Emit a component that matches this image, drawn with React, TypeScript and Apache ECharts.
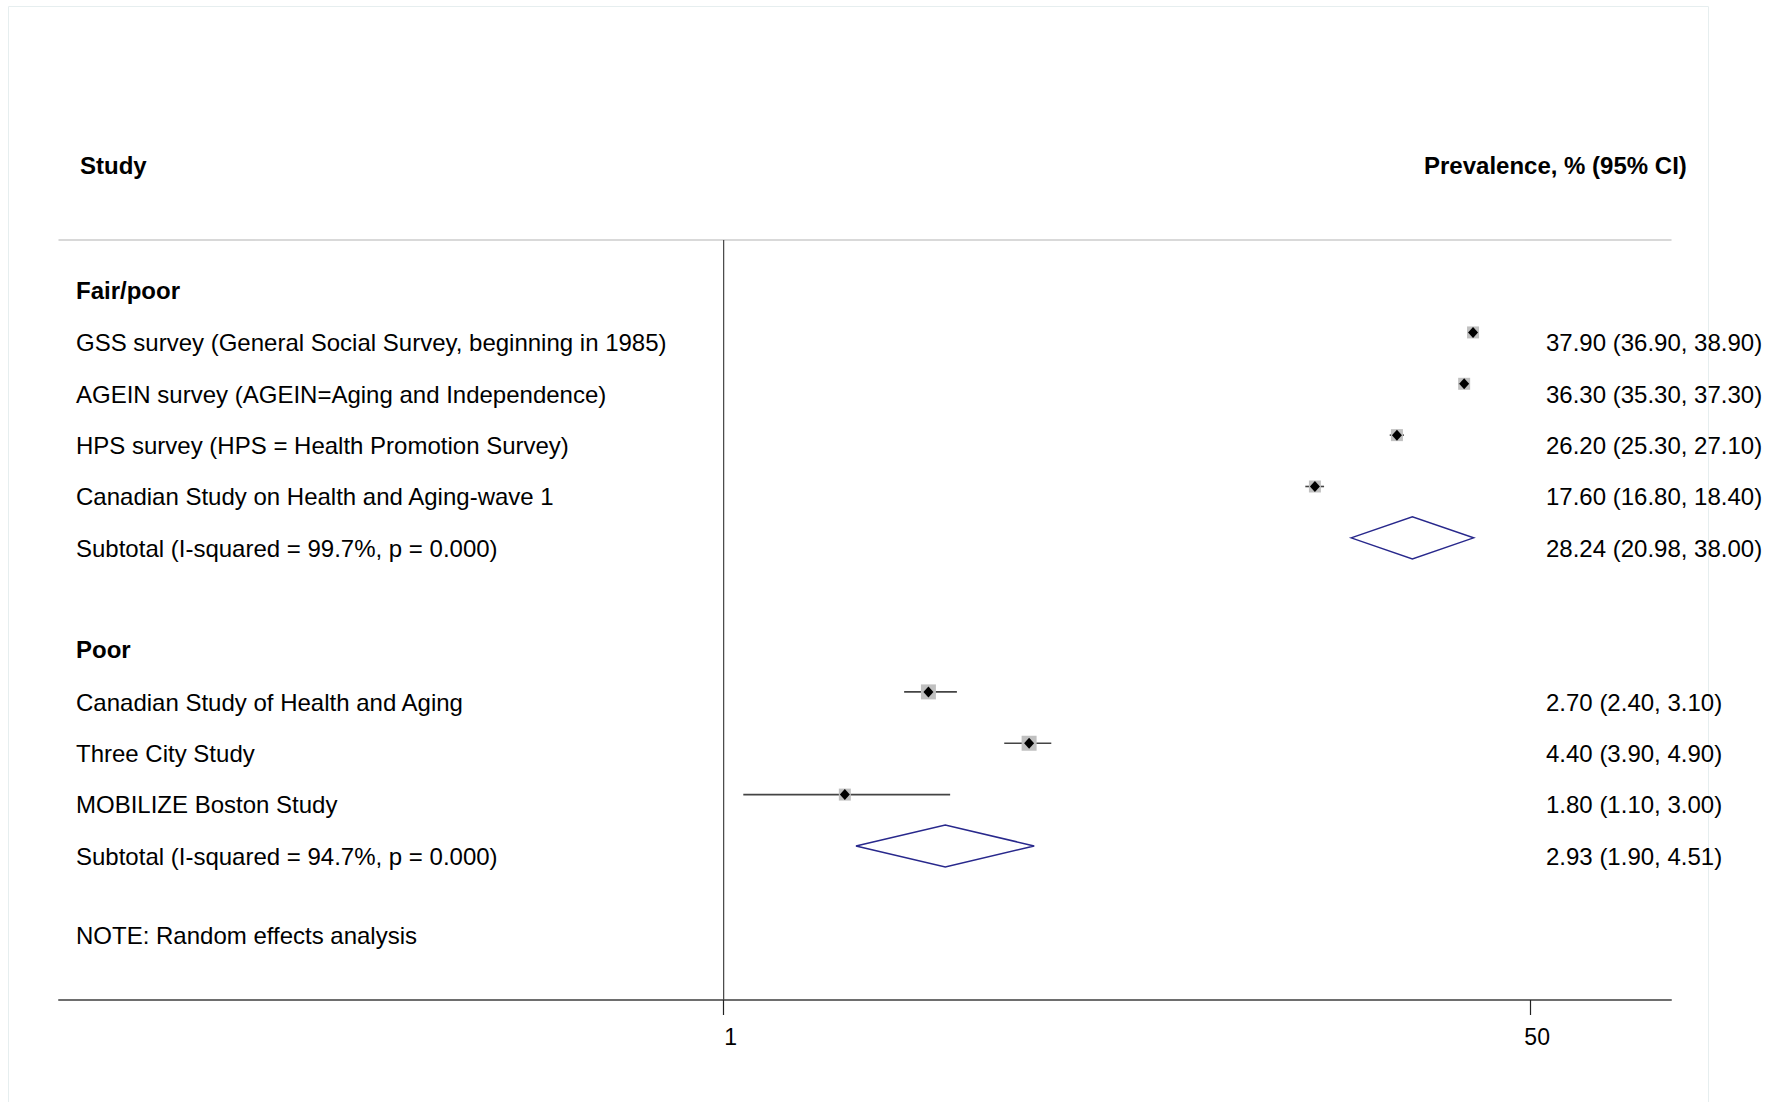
import React, { useEffect, useRef } from "react";
import * as echarts from "echarts";

// ---------- data ----------
const headerLeft = "Study";
const headerRight = "Prevalence, % (95% CI)";
const note = "NOTE: Random effects analysis";

const groupFairPoor = "Fair/poor";
const fairPoorStudies = [
  "GSS survey (General Social Survey, beginning in 1985)",
  "AGEIN survey (AGEIN=Aging and Independence)",
  "HPS survey (HPS = Health Promotion Survey)",
  "Canadian Study on Health and Aging-wave 1",
];
const fairPoorEst = [37.9, 36.3, 26.2, 17.6];
const fairPoorLow = [36.9, 35.3, 25.3, 16.8];
const fairPoorHigh = [38.9, 37.3, 27.1, 18.4];
const fairPoorBox = [12, 12, 12, 12];
const fairPoorSubtotal = [28.24, 20.98, 38.0];
const fairPoorSubLabel = "Subtotal (I-squared = 99.7%, p = 0.000)";

const groupPoor = "Poor";
const poorStudies = [
  "Canadian Study of Health and Aging",
  "Three City Study",
  "MOBILIZE Boston Study",
];
const poorEst = [2.7, 4.4, 1.8];
const poorLow = [2.4, 3.9, 1.1];
const poorHigh = [3.1, 4.9, 3.0];
const poorBox = [15, 15, 12];
const poorSubtotal = [2.93, 1.9, 4.51];
const poorSubLabel = "Subtotal (I-squared = 94.7%, p = 0.000)";

const xTicks = [1, 50];
const xMin = 0.0398;
const xMax = 99;
const yMin = -0.8;
const yMax = 14;
const noteRow = 12.55;

// ---------- layout ----------
const W = 1769;
const H = 1102;
const FONT = "'Liberation Sans', Arial, Helvetica, sans-serif";
const NAVY = "#28288c";

const fmt = (v: number) => v.toFixed(2);
const ciText = (e: number, l: number, h: number) => `${fmt(e)} (${fmt(l)}, ${fmt(h)})`;

type Row = { row: number; label: string; bold?: boolean; right?: string };

function buildRows() {
  const rows: Row[] = [];
  const studyData: number[][] = [];
  const subData: number[][] = [];
  let r = 0;
  rows.push({ row: r, label: groupFairPoor, bold: true });
  r++;
  fairPoorStudies.forEach((s, i) => {
    rows.push({ row: r, label: s, right: ciText(fairPoorEst[i], fairPoorLow[i], fairPoorHigh[i]) });
    studyData.push([fairPoorEst[i], r, fairPoorLow[i], fairPoorHigh[i], fairPoorBox[i]]);
    r++;
  });
  rows.push({ row: r, label: fairPoorSubLabel, right: ciText(fairPoorSubtotal[0], fairPoorSubtotal[1], fairPoorSubtotal[2]) });
  subData.push([fairPoorSubtotal[0], r, fairPoorSubtotal[1], fairPoorSubtotal[2]]);
  r += 2;
  rows.push({ row: r, label: groupPoor, bold: true });
  r++;
  poorStudies.forEach((s, i) => {
    rows.push({ row: r, label: s, right: ciText(poorEst[i], poorLow[i], poorHigh[i]) });
    studyData.push([poorEst[i], r, poorLow[i], poorHigh[i], poorBox[i]]);
    r++;
  });
  rows.push({ row: r, label: poorSubLabel, right: ciText(poorSubtotal[0], poorSubtotal[1], poorSubtotal[2]) });
  subData.push([poorSubtotal[0], r, poorSubtotal[1], poorSubtotal[2]]);
  return { rows, studyData, subData };
}

export default function App() {
  const ref = useRef<HTMLDivElement>(null);
  useEffect(() => {
    document.body.style.margin = "0";
    if (!ref.current) return;
    const chart = echarts.init(ref.current, null, { renderer: "svg" });
    const { rows, studyData, subData } = buildRows();

    const option: any = {
      animation: false,
      backgroundColor: "#ffffff",
      grid: { left: 59, right: W - 1671, top: 240, bottom: H - 1000 },
      xAxis: [
        {
          type: "log",
          logBase: 10,
          min: xMin,
          max: xMax,
          position: "bottom",
          axisLine: { show: true, onZero: false, lineStyle: { color: "#6e6e6e", width: 2 } },
          axisTick: { show: true, customValues: xTicks, length: 15, lineStyle: { color: "#222", width: 1.2 } },
          axisLabel: {
            show: true,
            customValues: xTicks,
            margin: 25,
            fontSize: 23,
            color: "#000",
            fontFamily: FONT,
            padding: [0, 0, 0, 14],
            formatter: (v: number) => String(v),
          },
          splitLine: { show: false },
          minorTick: { show: false },
        },
        {
          type: "log",
          logBase: 10,
          min: xMin,
          max: xMax,
          position: "top",
          axisLine: { show: true, onZero: false, lineStyle: { color: "#cccccc", width: 1.5 } },
          axisTick: { show: false },
          axisLabel: { show: false },
          splitLine: { show: false },
        },
      ],
      yAxis: {
        type: "value",
        inverse: true,
        min: yMin,
        max: yMax,
        show: false,
        splitLine: { show: false },
      },
      series: [
        {
          type: "line",
          xAxisIndex: 0,
          data: [
            [1, yMin],
            [1, yMax],
          ],
          symbol: "none",
          lineStyle: { color: "#444", width: 1.2 },
          silent: true,
        },
        {
          type: "custom",
          xAxisIndex: 0,
          data: studyData,
          encode: { x: [0, 2, 3], y: 1 },
          renderItem: (params: any, api: any) => {
            const est = api.value(0);
            const row = api.value(1);
            const lo = api.value(2);
            const hi = api.value(3);
            const box = api.value(4);
            const c = api.coord([est, row]);
            const l = api.coord([lo, row]);
            const h = api.coord([hi, row]);
            const d = 5;
            return {
              type: "group",
              children: [
                { type: "line", shape: { x1: l[0], y1: c[1], x2: h[0], y2: c[1] }, style: { stroke: "#444", lineWidth: 1.6 } },
                { type: "rect", shape: { x: c[0] - box / 2, y: c[1] - box / 2, width: box, height: box }, style: { fill: "#c0c0c0" } },
                {
                  type: "polygon",
                  shape: { points: [[c[0] - d, c[1]], [c[0], c[1] - d - 0.5], [c[0] + d, c[1]], [c[0], c[1] + d + 0.5]] },
                  style: { fill: "#000" },
                },
              ],
            };
          },
        },
        {
          type: "custom",
          xAxisIndex: 0,
          data: subData,
          encode: { x: [0, 2, 3], y: 1 },
          renderItem: (params: any, api: any) => {
            const row = api.value(1);
            const c = api.coord([api.value(0), row]);
            const l = api.coord([api.value(2), row]);
            const h = api.coord([api.value(3), row]);
            const hh = 21;
            return {
              type: "polygon",
              shape: { points: [[l[0], c[1]], [c[0], c[1] - hh], [h[0], c[1]], [c[0], c[1] + hh]] },
              style: { fill: "#fff", stroke: NAVY, lineWidth: 1.5 },
            };
          },
        },
      ],
    };
    chart.setOption(option);

    const yPix = (row: number) => chart.convertToPixel({ yAxisIndex: 0 }, row) as number;
    const textOffset = 0.2;
    const graphic: any[] = [
      {
        type: "rect",
        shape: { x: 8.5, y: 6.5, width: 1700, height: 1110 },
        style: { fill: "none", stroke: "#e6eeef", lineWidth: 1 },
        silent: true,
        z: -1,
      },
      {
        type: "text",
        x: 80,
        y: 165,
        style: { text: headerLeft, font: `bold 24px ${FONT}`, fill: "#000", verticalAlign: "middle", align: "left" },
      },
      {
        type: "text",
        x: 1424,
        y: 165,
        style: { text: headerRight, font: `bold 24px ${FONT}`, fill: "#000", verticalAlign: "middle", align: "left" },
      },
      {
        type: "text",
        x: 76,
        y: yPix(noteRow + textOffset),
        style: { text: note, font: `24px ${FONT}`, fill: "#000", verticalAlign: "middle", align: "left" },
      },
    ];
    rows.forEach((r) => {
      const y = yPix(r.row + textOffset) - (r.bold ? 1 : 0);
      graphic.push({
        type: "text",
        x: 76,
        y,
        style: { text: r.label, font: `${r.bold ? "bold " : ""}24px ${FONT}`, fill: "#000", verticalAlign: "middle", align: "left" },
      });
      if (r.right) {
        graphic.push({
          type: "text",
          x: 1546,
          y,
          style: { text: r.right, font: `24px ${FONT}`, fill: "#000", verticalAlign: "middle", align: "left" },
        });
      }
    });
    chart.setOption({ graphic });

    return () => chart.dispose();
  }, []);
  return <div ref={ref} style={{ width: W, height: H, position: "absolute", left: 0, top: 0 }} />;
}
